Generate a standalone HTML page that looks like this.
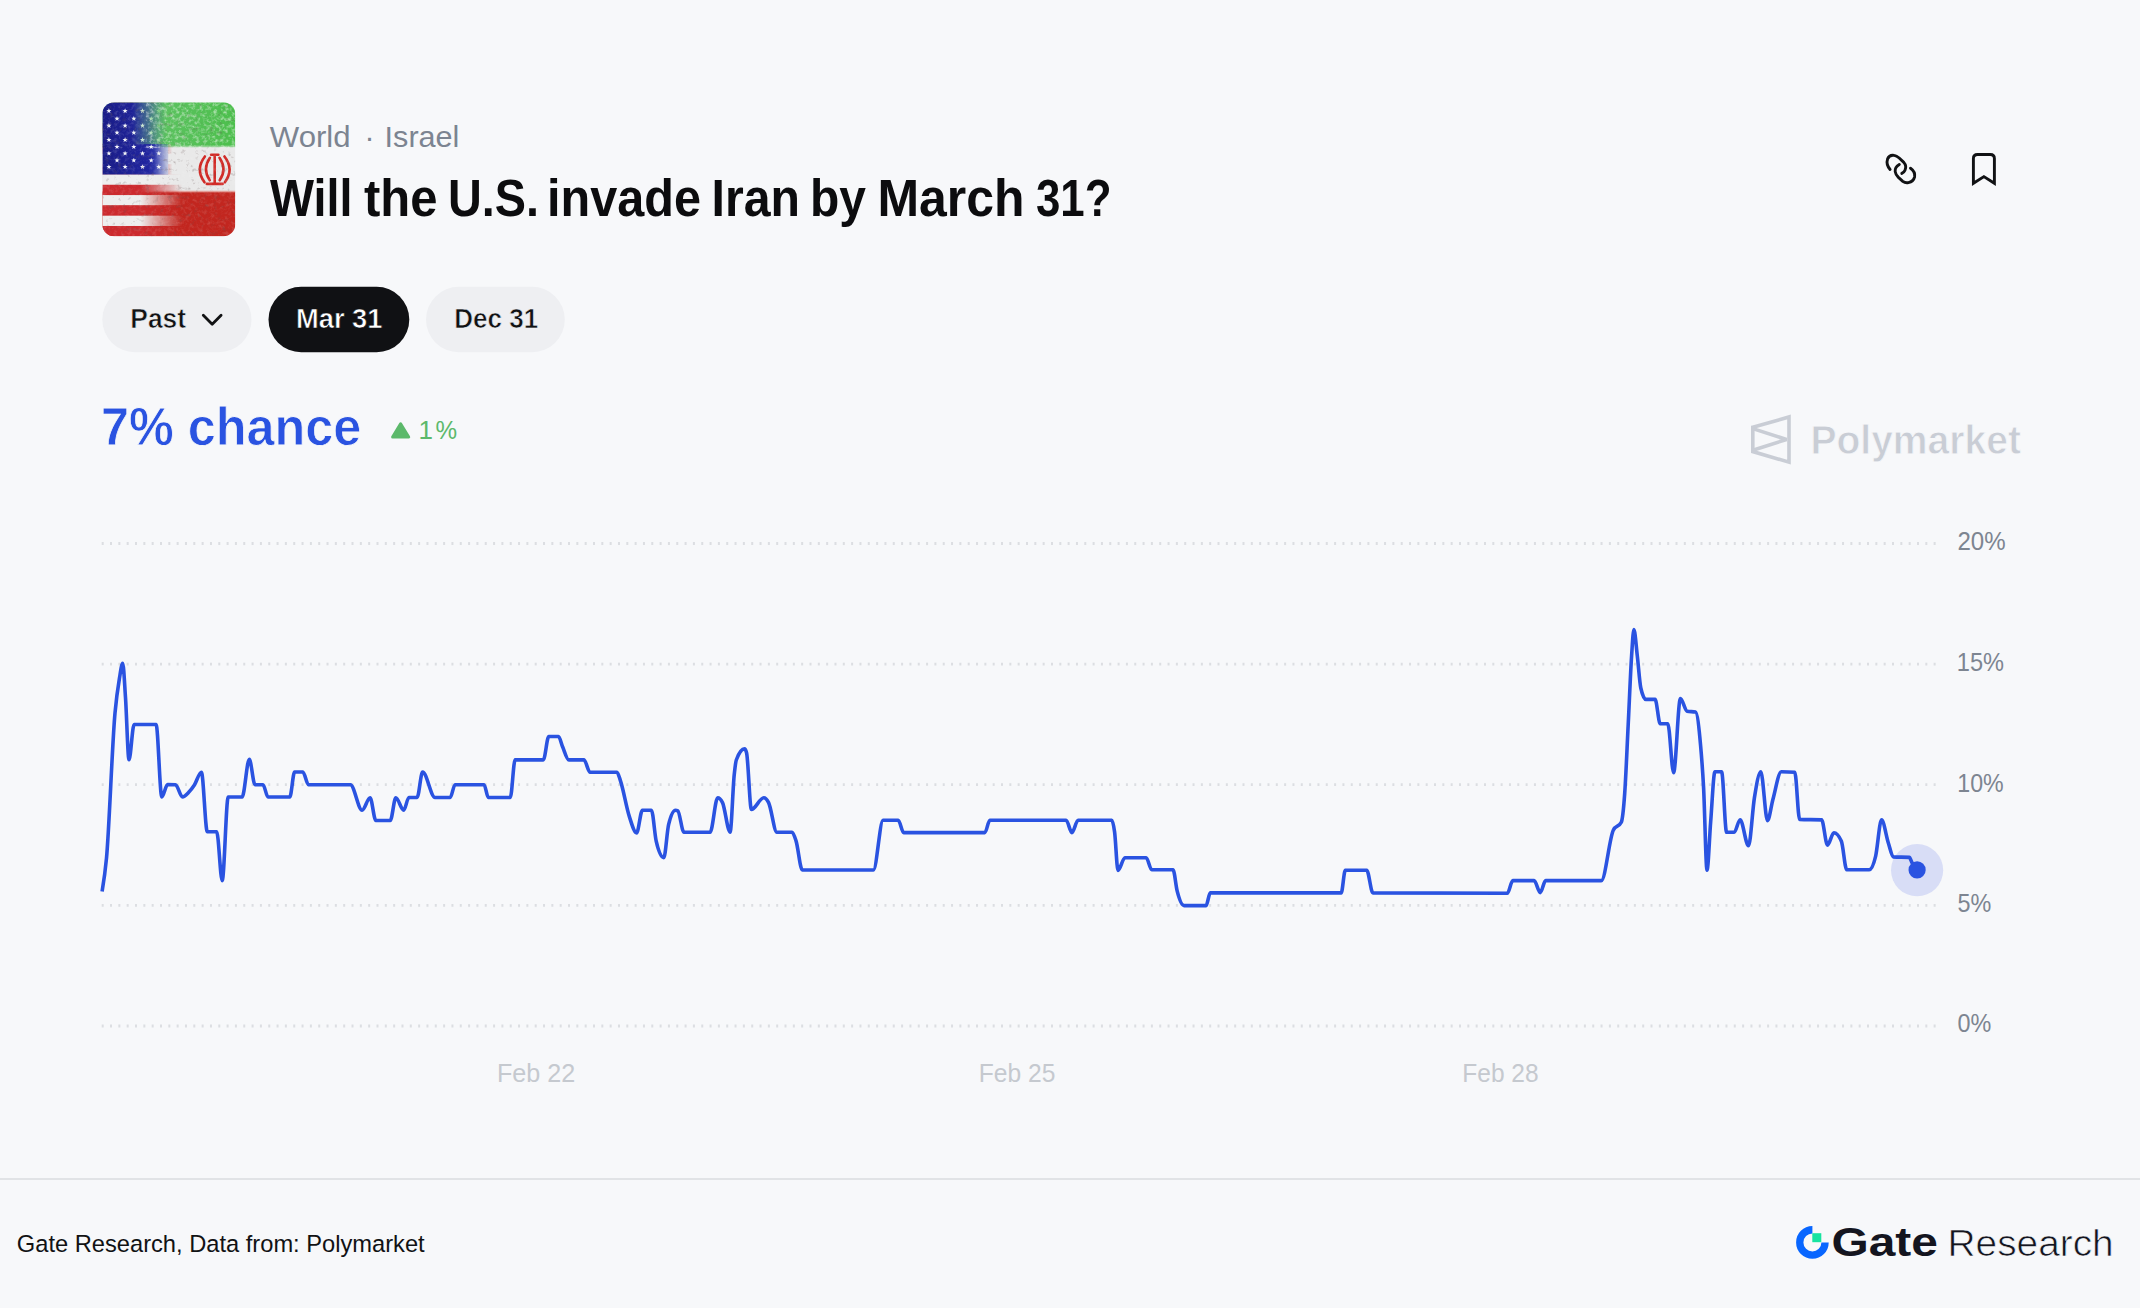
<!DOCTYPE html>
<html lang="en"><head><meta charset="utf-8"><title>Will the U.S. invade Iran by March 31?</title>
<style>
html,body{margin:0;padding:0;background:#f7f8fa;}
body{width:2140px;height:1308px;overflow:hidden;position:relative;}
svg{position:absolute;left:0;top:0;display:block;font-family:'Liberation Sans', Arial, sans-serif;}
</style></head><body>
<svg width="2140" height="1308" viewBox="0 0 2140 1308">
<rect x="0" y="0" width="2140" height="1308" fill="#f7f8fa"/>
<defs>
<clipPath id="fc"><rect x="102.3" y="102.3" width="133" height="134" rx="12" ry="12"/></clipPath>
<linearGradient id="g1" gradientUnits="userSpaceOnUse" x1="132.3" y1="0" x2="166.3" y2="0">
<stop offset="0" stop-color="#fff"/><stop offset="1" stop-color="#fff" stop-opacity="0"/></linearGradient>
<linearGradient id="g2" gradientUnits="userSpaceOnUse" x1="154.3" y1="0" x2="172.3" y2="0">
<stop offset="0" stop-color="#fff"/><stop offset="1" stop-color="#fff" stop-opacity="0"/></linearGradient>
<linearGradient id="g3" gradientUnits="userSpaceOnUse" x1="140.3" y1="0" x2="182.3" y2="0">
<stop offset="0" stop-color="#fff"/><stop offset="1" stop-color="#fff" stop-opacity="0"/></linearGradient>
<mask id="fmask" maskUnits="userSpaceOnUse" x="102.3" y="102.3" width="133" height="134">
<rect x="102.3" y="102.3" width="133" height="42.4" fill="url(#g1)"/>
<rect x="102.3" y="144.1" width="133" height="30.8" fill="url(#g2)"/>
<rect x="102.3" y="174.3" width="133" height="62.2" fill="url(#g3)"/></mask>
<linearGradient id="cant" x1="0" y1="0" x2="1" y2="0"><stop offset="0" stop-color="#191c86"/><stop offset="0.7" stop-color="#2125a0"/><stop offset="1" stop-color="#4a5cc0"/></linearGradient>
<linearGradient id="grn" x1="0" y1="0" x2="1" y2="0"><stop offset="0" stop-color="#8fd0a8"/><stop offset="0.45" stop-color="#5cc260"/><stop offset="1" stop-color="#4cbf4c"/></linearGradient>
<filter id="grainw" x="0" y="0" width="100%" height="100%"><feTurbulence type="fractalNoise" baseFrequency="0.28" numOctaves="3" seed="7" result="n"/>
<feColorMatrix in="n" type="matrix" values="0 0 0 0 1  0 0 0 0 1  0 0 0 0 1  -2.6 0 0 0 1.45"/></filter>
<filter id="graind" x="0" y="0" width="100%" height="100%"><feTurbulence type="fractalNoise" baseFrequency="0.22" numOctaves="3" seed="11" result="n"/>
<feColorMatrix in="n" type="matrix" values="0 0 0 0 0.15  0 0 0 0 0.1  0 0 0 0 0.1  3.2 0 0 0 -1.95"/></filter>
</defs>
<g clip-path="url(#fc)"><g transform="translate(102.3,102.3)">
<rect x="0" y="0" width="133" height="44.6" fill="url(#grn)"/>
<rect x="0" y="44.6" width="133" height="44.6" fill="#e9e9e9"/>
<rect x="0" y="89.2" width="133" height="45" fill="#c2261f"/>
<rect x="0" y="43.2" width="133" height="2" fill="#a9d9a9" opacity="0.6"/>
<rect x="0" y="88.2" width="133" height="2" fill="#e8a8a0" opacity="0.6"/>
<g fill="none" stroke="#d12a26" stroke-width="2.6" stroke-linecap="round"><path d="M112.4 53.5 V80"/><path d="M108.8 52.4 H116"/><path d="M104.5 81.6 H120.3"/><path d="M107.6 55.5 Q99.8 67 107.4 78"/><path d="M117.2 55.5 Q125 67 117.4 78"/><path d="M102.6 54.2 Q92.6 67 102.2 80"/><path d="M122.2 54.2 Q132.2 67 122.6 80"/></g>
</g></g>
<g clip-path="url(#fc)" mask="url(#fmask)"><g transform="translate(102.3,102.3)">
<rect x="0" y="0.00" width="133" height="10.41" fill="#cc2a2e"/>
<rect x="0" y="10.31" width="133" height="10.41" fill="#eeeeee"/>
<rect x="0" y="20.62" width="133" height="10.41" fill="#cc2a2e"/>
<rect x="0" y="30.92" width="133" height="10.41" fill="#eeeeee"/>
<rect x="0" y="41.23" width="133" height="10.41" fill="#cc2a2e"/>
<rect x="0" y="51.54" width="133" height="10.41" fill="#eeeeee"/>
<rect x="0" y="61.85" width="133" height="10.41" fill="#cc2a2e"/>
<rect x="0" y="72.15" width="133" height="10.41" fill="#eeeeee"/>
<rect x="0" y="82.46" width="133" height="10.41" fill="#cc2a2e"/>
<rect x="0" y="92.77" width="133" height="10.41" fill="#eeeeee"/>
<rect x="0" y="103.08" width="133" height="10.41" fill="#cc2a2e"/>
<rect x="0" y="113.38" width="133" height="10.41" fill="#eeeeee"/>
<rect x="0" y="123.69" width="133" height="10.41" fill="#cc2a2e"/>
<rect x="0" y="0" width="66" height="72.2" fill="url(#cant)"/>
<polygon points="6.60,6.00 7.25,7.81 9.17,7.87 7.65,9.04 8.19,10.88 6.60,9.80 5.01,10.88 5.55,9.04 4.03,7.87 5.95,7.81" fill="#f2f3f8"/>
<polygon points="22.80,6.00 23.45,7.81 25.37,7.87 23.85,9.04 24.39,10.88 22.80,9.80 21.21,10.88 21.75,9.04 20.23,7.87 22.15,7.81" fill="#f2f3f8"/>
<polygon points="40.20,6.00 40.85,7.81 42.77,7.87 41.25,9.04 41.79,10.88 40.20,9.80 38.61,10.88 39.15,9.04 37.63,7.87 39.55,7.81" fill="#f2f3f8"/>
<polygon points="56.50,6.00 57.15,7.81 59.07,7.87 57.55,9.04 58.09,10.88 56.50,9.80 54.91,10.88 55.45,9.04 53.93,7.87 55.85,7.81" fill="#f2f3f8"/>
<polygon points="14.70,13.60 15.35,15.41 17.27,15.47 15.75,16.64 16.29,18.48 14.70,17.40 13.11,18.48 13.65,16.64 12.13,15.47 14.05,15.41" fill="#f2f3f8"/>
<polygon points="31.50,13.60 32.15,15.41 34.07,15.47 32.55,16.64 33.09,18.48 31.50,17.40 29.91,18.48 30.45,16.64 28.93,15.47 30.85,15.41" fill="#f2f3f8"/>
<polygon points="48.90,13.60 49.55,15.41 51.47,15.47 49.95,16.64 50.49,18.48 48.90,17.40 47.31,18.48 47.85,16.64 46.33,15.47 48.25,15.41" fill="#f2f3f8"/>
<polygon points="6.60,20.70 7.25,22.51 9.17,22.57 7.65,23.74 8.19,25.58 6.60,24.50 5.01,25.58 5.55,23.74 4.03,22.57 5.95,22.51" fill="#f2f3f8"/>
<polygon points="22.80,20.70 23.45,22.51 25.37,22.57 23.85,23.74 24.39,25.58 22.80,24.50 21.21,25.58 21.75,23.74 20.23,22.57 22.15,22.51" fill="#f2f3f8"/>
<polygon points="40.20,20.70 40.85,22.51 42.77,22.57 41.25,23.74 41.79,25.58 40.20,24.50 38.61,25.58 39.15,23.74 37.63,22.57 39.55,22.51" fill="#f2f3f8"/>
<polygon points="56.50,20.70 57.15,22.51 59.07,22.57 57.55,23.74 58.09,25.58 56.50,24.50 54.91,25.58 55.45,23.74 53.93,22.57 55.85,22.51" fill="#f2f3f8"/>
<polygon points="14.70,27.70 15.35,29.51 17.27,29.57 15.75,30.74 16.29,32.58 14.70,31.50 13.11,32.58 13.65,30.74 12.13,29.57 14.05,29.51" fill="#f2f3f8"/>
<polygon points="31.50,27.70 32.15,29.51 34.07,29.57 32.55,30.74 33.09,32.58 31.50,31.50 29.91,32.58 30.45,30.74 28.93,29.57 30.85,29.51" fill="#f2f3f8"/>
<polygon points="48.90,27.70 49.55,29.51 51.47,29.57 49.95,30.74 50.49,32.58 48.90,31.50 47.31,32.58 47.85,30.74 46.33,29.57 48.25,29.51" fill="#f2f3f8"/>
<polygon points="6.60,34.80 7.25,36.61 9.17,36.67 7.65,37.84 8.19,39.68 6.60,38.60 5.01,39.68 5.55,37.84 4.03,36.67 5.95,36.61" fill="#f2f3f8"/>
<polygon points="22.80,34.80 23.45,36.61 25.37,36.67 23.85,37.84 24.39,39.68 22.80,38.60 21.21,39.68 21.75,37.84 20.23,36.67 22.15,36.61" fill="#f2f3f8"/>
<polygon points="40.20,34.80 40.85,36.61 42.77,36.67 41.25,37.84 41.79,39.68 40.20,38.60 38.61,39.68 39.15,37.84 37.63,36.67 39.55,36.61" fill="#f2f3f8"/>
<polygon points="56.50,34.80 57.15,36.61 59.07,36.67 57.55,37.84 58.09,39.68 56.50,38.60 54.91,39.68 55.45,37.84 53.93,36.67 55.85,36.61" fill="#f2f3f8"/>
<polygon points="14.70,41.90 15.35,43.71 17.27,43.77 15.75,44.94 16.29,46.78 14.70,45.70 13.11,46.78 13.65,44.94 12.13,43.77 14.05,43.71" fill="#f2f3f8"/>
<polygon points="31.50,41.90 32.15,43.71 34.07,43.77 32.55,44.94 33.09,46.78 31.50,45.70 29.91,46.78 30.45,44.94 28.93,43.77 30.85,43.71" fill="#f2f3f8"/>
<polygon points="48.90,41.90 49.55,43.71 51.47,43.77 49.95,44.94 50.49,46.78 48.90,45.70 47.31,46.78 47.85,44.94 46.33,43.77 48.25,43.71" fill="#f2f3f8"/>
<polygon points="6.60,48.40 7.25,50.21 9.17,50.27 7.65,51.44 8.19,53.28 6.60,52.20 5.01,53.28 5.55,51.44 4.03,50.27 5.95,50.21" fill="#f2f3f8"/>
<polygon points="22.80,48.40 23.45,50.21 25.37,50.27 23.85,51.44 24.39,53.28 22.80,52.20 21.21,53.28 21.75,51.44 20.23,50.27 22.15,50.21" fill="#f2f3f8"/>
<polygon points="40.20,48.40 40.85,50.21 42.77,50.27 41.25,51.44 41.79,53.28 40.20,52.20 38.61,53.28 39.15,51.44 37.63,50.27 39.55,50.21" fill="#f2f3f8"/>
<polygon points="56.50,48.40 57.15,50.21 59.07,50.27 57.55,51.44 58.09,53.28 56.50,52.20 54.91,53.28 55.45,51.44 53.93,50.27 55.85,50.21" fill="#f2f3f8"/>
<polygon points="14.70,55.40 15.35,57.21 17.27,57.27 15.75,58.44 16.29,60.28 14.70,59.20 13.11,60.28 13.65,58.44 12.13,57.27 14.05,57.21" fill="#f2f3f8"/>
<polygon points="31.50,55.40 32.15,57.21 34.07,57.27 32.55,58.44 33.09,60.28 31.50,59.20 29.91,60.28 30.45,58.44 28.93,57.27 30.85,57.21" fill="#f2f3f8"/>
<polygon points="48.90,55.40 49.55,57.21 51.47,57.27 49.95,58.44 50.49,60.28 48.90,59.20 47.31,60.28 47.85,58.44 46.33,57.27 48.25,57.21" fill="#f2f3f8"/>
<polygon points="6.60,61.90 7.25,63.71 9.17,63.77 7.65,64.94 8.19,66.78 6.60,65.70 5.01,66.78 5.55,64.94 4.03,63.77 5.95,63.71" fill="#f2f3f8"/>
<polygon points="22.80,61.90 23.45,63.71 25.37,63.77 23.85,64.94 24.39,66.78 22.80,65.70 21.21,66.78 21.75,64.94 20.23,63.77 22.15,63.71" fill="#f2f3f8"/>
<polygon points="40.20,61.90 40.85,63.71 42.77,63.77 41.25,64.94 41.79,66.78 40.20,65.70 38.61,66.78 39.15,64.94 37.63,63.77 39.55,63.71" fill="#f2f3f8"/>
<polygon points="56.50,61.90 57.15,63.71 59.07,63.77 57.55,64.94 58.09,66.78 56.50,65.70 54.91,66.78 55.45,64.94 53.93,63.77 55.85,63.71" fill="#f2f3f8"/>
</g></g>
<g clip-path="url(#fc)"><rect x="146.3" y="102.3" width="89" height="45" filter="url(#grainw)" opacity="0.5"/><rect x="102.3" y="102.3" width="44" height="45" filter="url(#grainw)" opacity="0.15"/><rect x="102.3" y="147.3" width="133" height="89" filter="url(#grainw)" opacity="0.12"/><rect x="102.3" y="102.3" width="133" height="134" filter="url(#graind)" opacity="0.35"/></g>
<text x="269.8" y="146.8" font-size="30" fill="#7c8491" textLength="80.8" lengthAdjust="spacingAndGlyphs">World</text>
<text x="364.5" y="146.8" font-size="30" fill="#7c8491">·</text>
<text x="384.6" y="146.8" font-size="30" fill="#7c8491" textLength="74.8" lengthAdjust="spacingAndGlyphs">Israel</text>
<g font-size="52.6" font-weight="bold" fill="#0c0c0e"><text x="270.0" y="216.2" textLength="82.5" lengthAdjust="spacingAndGlyphs">Will</text><text x="364.0" y="216.2" textLength="73.5" lengthAdjust="spacingAndGlyphs">the</text><text x="448.0" y="216.2" textLength="91.0" lengthAdjust="spacingAndGlyphs">U.S.</text><text x="547.0" y="216.2" textLength="154.0" lengthAdjust="spacingAndGlyphs">invade</text><text x="711.5" y="216.2" textLength="88.5" lengthAdjust="spacingAndGlyphs">Iran</text><text x="810.0" y="216.2" textLength="56.0" lengthAdjust="spacingAndGlyphs">by</text><text x="877.5" y="216.2" textLength="147.0" lengthAdjust="spacingAndGlyphs">March</text><text x="1036.0" y="216.2" textLength="75.5" lengthAdjust="spacingAndGlyphs">31?</text></g>
<g fill="none" stroke="#111214" stroke-width="2.9" stroke-linecap="round" stroke-linejoin="round">
<path d="M1890.1 169.5 C1887.5 166.5 1886.6 162 1887.6 158.9 C1888.8 155.9 1891.8 155 1894.2 155.4 C1896.3 155.7 1897.8 156.8 1899.2 158 L1903.8 162.4 C1905.6 164.4 1906.2 167.5 1905 170.3 C1904.4 171.8 1903.2 172.8 1901.8 173.4"/>
<path d="M1899.3 164.4 C1896.6 166 1894.8 168.6 1895.2 171.6 C1895.5 173.8 1896.8 175.8 1898.4 177.4 L1902.8 181.3 C1904.5 182.6 1906.5 183 1908.4 182.6 C1911.4 182 1913.9 179.8 1914.6 176.8 C1915.1 173.8 1913.3 170.2 1910.5 168.2"/>
</g>
<path d="M1973.4 183.3 V158.6 Q1973.4 154.5 1977.5 154.5 H1990.3 Q1994.4 154.5 1994.4 158.6 V183.3 L1983.9 176.6 Z" fill="none" stroke="#111214" stroke-width="2.9" stroke-linejoin="miter"/>
<rect x="102.3" y="286.8" width="149.2" height="65.5" rx="32.75" fill="#eeeff2"/>
<rect x="268.5" y="286.8" width="140.8" height="65.5" rx="32.75" fill="#101114"/>
<rect x="426" y="286.8" width="138.8" height="65.5" rx="32.75" fill="#eeeff2"/>
<text x="130.3" y="328.2" font-size="27.9" fill="#111214" font-weight="bold" textLength="55.7" lengthAdjust="spacingAndGlyphs" stroke="#eeeff2" stroke-width="0.6">Past</text>
<polyline points="203.3,315.3 212.2,324.2 221.1,315.3" fill="none" stroke="#111214" stroke-width="2.8" stroke-linecap="round" stroke-linejoin="round"/>
<text x="296" y="328.2" font-size="27.9" fill="#ffffff" font-weight="bold" textLength="86.4" lengthAdjust="spacingAndGlyphs" stroke="#101114" stroke-width="0.6">Mar 31</text>
<text x="454.3" y="328.2" font-size="27.9" fill="#111214" font-weight="bold" textLength="83.8" lengthAdjust="spacingAndGlyphs" stroke="#eeeff2" stroke-width="0.6">Dec 31</text>
<text x="101.0" y="445.1" font-size="54.5" fill="#2a53e1" font-weight="bold" textLength="260.3" lengthAdjust="spacingAndGlyphs" stroke="#f7f8fa" stroke-width="0.8">7% chance</text>
<path d="M392.6 437 L400.6 423.8 L408.7 437 Z" fill="#5cb96b" stroke="#5cb96b" stroke-width="3" stroke-linejoin="round"/>
<text x="418.5" y="439.3" font-size="26" fill="#5cb96b">1</text>
<text x="435.6" y="439.3" font-size="26" fill="#5cb96b" textLength="21.6" lengthAdjust="spacingAndGlyphs">%</text>
<g fill="none" stroke="#c9cdd5" stroke-width="3.6" stroke-linejoin="miter"><path d="M1752.8 427.2 L1789 417 V462.2 L1752.8 451.6 Z"/><path d="M1752.8 428.6 L1786.5 439.5 L1752.8 450.2" stroke-linejoin="bevel"/></g>
<text x="1810.4" y="453.8" font-size="41.3" fill="#c9cdd5" font-weight="bold" textLength="210.6" lengthAdjust="spacingAndGlyphs" stroke="#f7f8fa" stroke-width="0.8">Polymarket</text>
<line x1="101.7" y1="543.5" x2="1936" y2="543.5" stroke="#dcdee2" stroke-width="2.8" stroke-dasharray="2 6.327"/>
<line x1="101.7" y1="664.1" x2="1936" y2="664.1" stroke="#dcdee2" stroke-width="2.8" stroke-dasharray="2 6.327"/>
<line x1="101.7" y1="784.6" x2="1936" y2="784.6" stroke="#dcdee2" stroke-width="2.8" stroke-dasharray="2 6.327"/>
<line x1="101.7" y1="905.4" x2="1936" y2="905.4" stroke="#dcdee2" stroke-width="2.8" stroke-dasharray="2 6.327"/>
<line x1="101.7" y1="1026" x2="1936" y2="1026" stroke="#dcdee2" stroke-width="2.8" stroke-dasharray="2 6.327"/>
<text x="1957.4" y="550.0" font-size="25.9" fill="#7d8591" textLength="48.2" lengthAdjust="spacingAndGlyphs">20%</text>
<text x="1956.8" y="670.6" font-size="25.9" fill="#7d8591" textLength="47.2" lengthAdjust="spacingAndGlyphs">15%</text>
<text x="1957.3" y="791.5" font-size="25.9" fill="#7d8591" textLength="46.4" lengthAdjust="spacingAndGlyphs">10%</text>
<text x="1957.5" y="912.0" font-size="25.9" fill="#7d8591" textLength="33.8" lengthAdjust="spacingAndGlyphs">5%</text>
<text x="1957.5" y="1032.3" font-size="25.9" fill="#7d8591" textLength="33.8" lengthAdjust="spacingAndGlyphs">0%</text>
<text x="497" y="1082" font-size="25.4" fill="#c5c9cf" textLength="78.3" lengthAdjust="spacingAndGlyphs">Feb 22</text>
<text x="978.8" y="1082" font-size="25.4" fill="#c5c9cf" textLength="76.6" lengthAdjust="spacingAndGlyphs">Feb 25</text>
<text x="1462.3" y="1082" font-size="25.4" fill="#c5c9cf" textLength="76.3" lengthAdjust="spacingAndGlyphs">Feb 28</text>
<circle cx="1917.1" cy="870.2" r="26.1" fill="#d8ddf6"/>
<path d="M102.10 891.50C103.57 882.74 105.03 873.98 106.50 858.10C109.33 827.43 112.17 744.09 115.00 713.00C116.47 696.90 117.93 687.37 119.40 678.60C120.50 672.02 121.60 663.40 122.70 663.40C123.63 663.40 124.57 683.99 125.50 697.70C126.67 714.84 127.83 759.80 129.00 759.80C130.70 759.80 132.40 724.50 134.10 724.50C141.43 724.50 148.77 724.50 156.10 724.50C158.00 724.50 159.90 797.00 161.80 797.00C163.73 797.00 165.67 784.60 167.60 784.60C170.23 784.60 172.87 784.63 175.50 784.70C177.83 784.76 180.17 797.00 182.50 797.00C184.50 797.00 186.50 794.53 188.50 792.50C190.47 790.51 192.43 788.00 194.40 785.00C196.73 781.44 199.07 772.20 201.40 772.20C203.37 772.20 205.33 831.80 207.30 831.80C210.43 831.80 213.57 831.80 216.70 831.80C218.53 831.80 220.37 880.60 222.20 880.60C224.20 880.60 226.20 797.00 228.20 797.00C232.83 797.00 237.47 797.00 242.10 797.00C244.50 797.00 246.90 759.30 249.30 759.30C251.20 759.30 253.10 784.70 255.00 784.70C257.67 784.70 260.33 784.70 263.00 784.70C264.67 784.70 266.33 797.00 268.00 797.00C275.27 797.00 282.53 797.00 289.80 797.00C291.40 797.00 293.00 772.00 294.60 772.00C297.37 772.00 300.13 772.00 302.90 772.00C304.73 772.00 306.57 784.70 308.40 784.70C322.40 784.70 336.40 784.70 350.40 784.70C354.30 784.70 358.20 810.20 362.10 810.20C364.77 810.20 367.43 797.80 370.10 797.80C372.00 797.80 373.90 820.50 375.80 820.50C380.63 820.50 385.47 820.50 390.30 820.50C392.13 820.50 393.97 797.80 395.80 797.80C398.43 797.80 401.07 810.20 403.70 810.20C405.43 810.20 407.17 797.50 408.90 797.50C411.63 797.50 414.37 797.50 417.10 797.50C418.93 797.50 420.77 772.00 422.60 772.00C426.73 772.00 430.87 797.50 435.00 797.50C440.07 797.50 445.13 797.50 450.20 797.50C451.80 797.50 453.40 784.70 455.00 784.70C464.70 784.70 474.40 784.70 484.10 784.70C485.50 784.70 486.90 797.50 488.30 797.50C495.63 797.50 502.97 797.50 510.30 797.50C511.90 797.50 513.50 759.90 515.10 759.90C524.50 759.90 533.90 759.90 543.30 759.90C545.13 759.90 546.97 736.50 548.80 736.50C552.03 736.50 555.27 736.50 558.50 736.50C559.87 736.50 561.23 743.58 562.60 746.80C564.67 751.66 566.73 759.90 568.80 759.90C573.83 759.90 578.87 759.90 583.90 759.90C585.97 759.90 588.03 772.30 590.10 772.30C599.07 772.30 608.03 772.30 617.00 772.30C618.13 772.30 619.27 777.34 620.40 780.60C623.37 789.14 626.33 807.34 629.30 816.40C631.73 823.83 634.17 832.90 636.60 832.90C638.53 832.90 640.47 810.20 642.40 810.20C645.40 810.20 648.40 810.20 651.40 810.20C653.00 810.20 654.60 834.15 656.20 841.10C658.73 852.10 661.27 857.60 663.80 857.60C665.40 857.60 667.00 831.28 668.60 824.60C670.90 815.00 673.20 810.20 675.50 810.20C676.27 810.20 677.03 810.40 677.80 810.80C679.83 811.86 681.87 832.20 683.90 832.20C692.63 832.20 701.37 832.20 710.10 832.20C712.63 832.20 715.17 797.80 717.70 797.80C719.30 797.80 720.90 799.40 722.50 802.60C725.03 807.67 727.57 832.20 730.10 832.20C731.47 832.20 732.83 787.91 734.20 775.00C734.90 768.39 735.60 761.90 736.30 760.00C739.03 752.60 741.77 748.90 744.50 748.90C745.20 748.90 745.90 750.27 746.60 753.00C748.20 759.25 749.80 809.50 751.40 809.50C755.53 809.50 759.67 797.80 763.80 797.80C765.40 797.80 767.00 799.50 768.60 802.60C771.37 807.97 774.13 832.20 776.90 832.20C781.93 832.20 786.97 832.20 792.00 832.20C793.37 832.20 794.73 836.78 796.10 841.10C798.17 847.64 800.23 870.00 802.30 870.00C826.00 870.00 849.70 870.00 873.40 870.00C876.63 870.00 879.87 820.20 883.10 820.20C888.13 820.20 893.17 820.20 898.20 820.20C900.03 820.20 901.87 832.60 903.70 832.60C930.77 832.60 957.83 832.60 984.90 832.60C986.53 832.60 988.17 820.20 989.80 820.20C1015.23 820.20 1040.67 820.20 1066.10 820.20C1068.03 820.20 1069.97 832.60 1071.90 832.60C1073.97 832.60 1076.03 820.20 1078.10 820.20C1089.33 820.20 1100.57 820.20 1111.80 820.20C1112.73 820.20 1113.67 825.07 1114.60 832.00C1115.73 840.41 1116.87 870.50 1118.00 870.50C1120.30 870.50 1122.60 857.80 1124.90 857.80C1132.00 857.80 1139.10 857.80 1146.20 857.80C1148.03 857.80 1149.87 869.80 1151.70 869.80C1158.80 869.80 1165.90 869.80 1173.00 869.80C1174.40 869.80 1175.80 885.57 1177.20 891.10C1179.50 900.18 1181.80 905.60 1184.10 905.60C1191.43 905.60 1198.77 905.60 1206.10 905.60C1207.47 905.60 1208.83 892.90 1210.20 892.90C1253.87 892.90 1297.53 892.90 1341.20 892.90C1342.57 892.90 1343.93 870.20 1345.30 870.20C1352.43 870.20 1359.57 870.20 1366.70 870.20C1368.77 870.20 1370.83 892.89 1372.90 892.90C1417.70 893.17 1462.50 893.30 1507.30 893.30C1509.13 893.30 1510.97 880.60 1512.80 880.60C1519.90 880.60 1527.00 880.60 1534.10 880.60C1536.17 880.60 1538.23 892.60 1540.30 892.60C1542.07 892.60 1543.83 880.60 1545.60 880.60C1564.17 880.60 1582.73 880.60 1601.30 880.60C1605.30 880.60 1609.30 838.20 1613.30 830.20C1615.97 824.87 1618.63 827.53 1621.30 822.20C1622.43 819.93 1623.57 809.33 1624.70 793.50C1625.87 777.20 1627.03 747.98 1628.20 724.70C1629.33 702.09 1630.47 672.91 1631.60 655.90C1632.37 644.39 1633.13 629.50 1633.90 629.50C1635.03 629.50 1636.17 646.31 1637.30 655.90C1638.47 665.77 1639.63 682.78 1640.80 688.00C1642.50 695.60 1644.20 699.40 1645.90 699.40C1648.97 699.40 1652.03 699.40 1655.10 699.40C1656.80 699.40 1658.50 723.80 1660.20 723.80C1662.73 723.80 1665.27 723.80 1667.80 723.80C1669.73 723.80 1671.67 772.60 1673.60 772.60C1675.87 772.60 1678.13 698.60 1680.40 698.60C1682.63 698.60 1684.87 710.72 1687.10 711.20C1689.90 711.80 1692.70 711.50 1695.50 712.10C1697.20 712.46 1698.90 726.53 1700.60 745.70C1701.60 756.98 1702.60 768.98 1703.60 787.80C1704.73 809.12 1705.87 870.20 1707.00 870.20C1708.23 870.20 1709.47 836.87 1710.70 821.40C1712.10 803.84 1713.50 771.80 1714.90 771.80C1717.13 771.80 1719.37 771.80 1721.60 771.80C1723.27 771.80 1724.93 832.30 1726.60 832.30C1729.13 832.30 1731.67 832.30 1734.20 832.30C1736.17 832.30 1738.13 819.70 1740.10 819.70C1742.90 819.70 1745.70 845.80 1748.50 845.80C1750.47 845.80 1752.43 810.06 1754.40 797.90C1756.53 784.71 1758.67 771.80 1760.80 771.80C1763.03 771.80 1765.27 820.60 1767.50 820.60C1769.30 820.60 1771.10 806.10 1772.90 799.50C1775.70 789.23 1778.50 771.80 1781.30 771.80C1785.80 771.80 1790.30 771.97 1794.80 772.30C1796.40 772.42 1798.00 819.33 1799.60 819.40C1806.93 819.73 1814.27 819.57 1821.60 819.90C1823.57 819.99 1825.53 845.10 1827.50 845.10C1829.63 845.10 1831.77 832.80 1833.90 832.80C1836.40 832.80 1838.90 835.63 1841.40 841.30C1843.17 845.30 1844.93 869.70 1846.70 869.70C1854.20 869.70 1861.70 869.70 1869.20 869.70C1871.33 869.70 1873.47 865.23 1875.60 856.30C1877.57 848.06 1879.53 819.90 1881.50 819.90C1883.83 819.90 1886.17 836.44 1888.50 843.50C1890.10 848.34 1891.70 856.80 1893.30 856.90C1898.63 857.23 1903.97 857.07 1909.30 857.40C1910.20 857.46 1911.10 861.09 1912.00 862.70C1913.70 865.75 1915.40 867.97 1917.10 870.20" fill="none" stroke="#2a53e1" stroke-width="3.6" stroke-linejoin="round" stroke-linecap="butt"/>
<circle cx="1917.1" cy="869.9" r="8.6" fill="#2a53e1"/>
<rect x="0" y="1178" width="2140" height="2" fill="#e1e3e6"/>
<text x="16.8" y="1252" font-size="24.3" fill="#111214" textLength="407.9" lengthAdjust="spacingAndGlyphs">Gate Research, Data from: Polymarket</text>
<path d="M1812.4 1226.1000000000001 A16.3 16.3 0 1 0 1828.7 1242.4 L1821.4 1242.4 A9.0 9.0 0 1 1 1812.4 1233.4 Z" fill="#0866ff"/>
<rect x="1812.3" y="1233.2" width="9" height="9" fill="#17e3a0"/>
<text x="1831.4" y="1255.7" font-size="40.7" fill="#14151f" font-weight="bold" textLength="106.5" lengthAdjust="spacingAndGlyphs">Gate</text>
<text x="1947.6" y="1255.7" font-size="37.8" fill="#14151f" textLength="166" lengthAdjust="spacingAndGlyphs" stroke="#f7f8fa" stroke-width="0.7">Research</text>
</svg>
</body></html>
